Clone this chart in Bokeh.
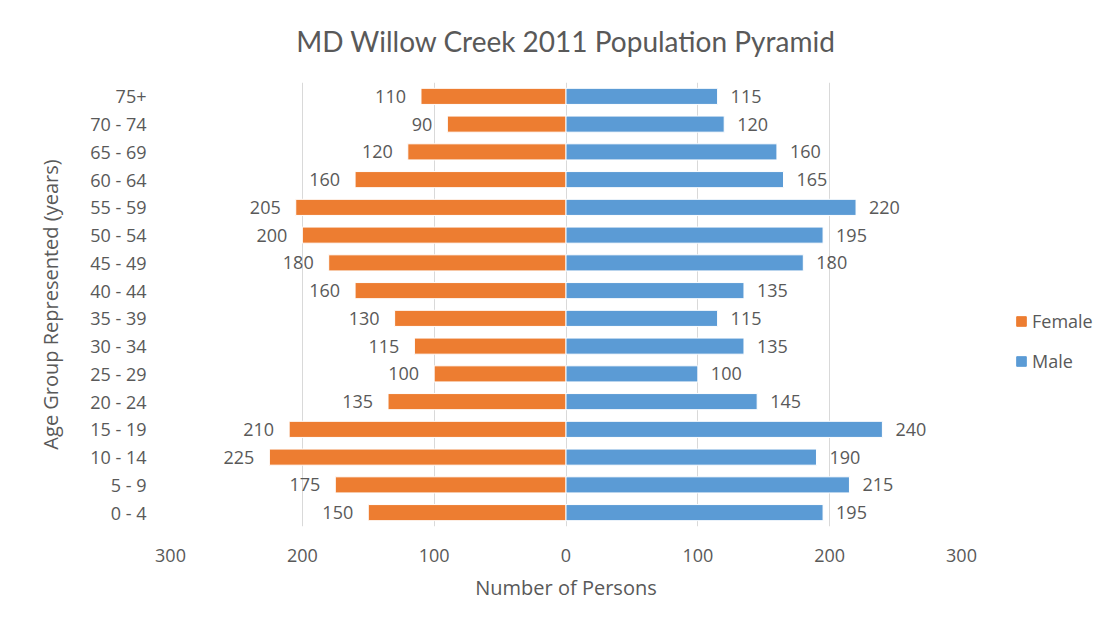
from bokeh.plotting import figure
from bokeh.layouts import row
from bokeh.models import ColumnDataSource, FixedTicker, Legend, LegendItem, FactorRange, Range1d
from bokeh.embed import file_html
from bokeh.resources import INLINE
from bokeh.core.properties import value

# data (top to bottom as in picture)
ages = ["75+", "70 - 74", "65 - 69", "60 - 64", "55 - 59", "50 - 54", "45 - 49", "40 - 44",
        "35 - 39", "30 - 34", "25 - 29", "20 - 24", "15 - 19", "10 - 14", "5 - 9", "0 - 4"]
female = [110, 90, 120, 160, 205, 200, 180, 160, 130, 115, 100, 135, 210, 225, 175, 150]
male = [115, 120, 160, 165, 220, 195, 180, 135, 115, 135, 100, 145, 240, 190, 215, 195]
x_ticks = [-300, -200, -100, 0, 100, 200, 300]
series = ["Female", "Male"]
colors = ["#ED7D31", "#5B9BD5"]

cats = ages[::-1]
src = ColumnDataSource(dict(
    age=ages,
    fneg=[-v for v in female],
    male=male,
    flab=[str(v) for v in female],
    mlab=[str(v) for v in male],
))

FONT = "Open Sans"
GRAY = "#595959"

p = figure(frame_width=791, frame_height=444, output_backend="svg", toolbar_location=None,
           y_range=FactorRange(factors=cats, range_padding=0),
           x_range=Range1d(-300, 300),
           min_border_left=170, min_border_right=25, min_border_top=81, min_border_bottom=88)
p.title.text = "MD Willow Creek 2011 Population Pyramid"
p.title.align = "center"
p.title.vertical_align = "top"
p.title.text_font = "Lato"
p.title.text_font_style = "normal"
p.title.text_font_size = "28px"
p.title.text_color = GRAY
p.title.offset = -4
p.title.standoff = 46
p.outline_line_color = None

p.hbar(y="age", left="fneg", right=0, height=0.58, source=src,
       fill_color=colors[0], line_color="white", line_width=1)
p.hbar(y="age", left=0, right="male", height=0.58, source=src,
       fill_color=colors[1], line_color="white", line_width=1)

p.text(x="fneg", y="age", text="flab", source=src, x_offset=-15,
       text_align="right", text_baseline="middle", text_font=value(FONT),
       text_font_size="18px", text_color=GRAY)
p.text(x="male", y="age", text="mlab", source=src, x_offset=13,
       text_align="left", text_baseline="middle", text_font=value(FONT),
       text_font_size="18px", text_color=GRAY)

p.xaxis.ticker = FixedTicker(ticks=x_ticks)
p.xaxis.major_label_overrides = {t: str(abs(t)) for t in x_ticks}
p.xaxis.axis_label = "Number of Persons"
p.yaxis.axis_label = "Age Group Represented (years)"
for ax in (p.xaxis, p.yaxis):
    ax.axis_line_color = None
    ax.major_tick_line_color = None
    ax.minor_tick_line_color = None
    ax.major_label_text_font = FONT
    ax.major_label_text_font_size = "18px"
    ax.major_label_text_color = GRAY
    ax.axis_label_text_font = FONT
    ax.axis_label_text_font_size = "20px"
    ax.axis_label_text_font_style = "normal"
    ax.axis_label_text_color = GRAY
p.xaxis.major_label_standoff = 16
p.xaxis.axis_label_standoff = 9
p.yaxis.major_label_standoff = 18
p.yaxis.axis_label_standoff = 23

p.xgrid.grid_line_color = "#d9d9d9"
p.ygrid.grid_line_color = None

# legend panel to the right
lg = figure(width=108, height=613, output_backend="svg", toolbar_location=None,
            x_range=Range1d(0, 1), y_range=Range1d(0, 1),
            x_axis_location=None, y_axis_location=None,
            min_border_left=0, min_border_right=0, min_border_top=0, min_border_bottom=0)
lg.outline_line_color = None
lg.grid.grid_line_color = None
items = []
for name, col in zip(series, colors):
    r = lg.hbar(y=[5], left=[5], right=[6], height=0.5, fill_color=col, line_color=col)
    items.append(LegendItem(label=name, renderers=[r]))
legend = Legend(items=items, location=(29, 152), orientation="vertical",
                label_text_font=FONT, label_text_font_size="18px", label_text_color=GRAY,
                glyph_width=12, glyph_height=12, spacing=16, label_standoff=5,
                padding=0, margin=0,
                border_line_color=None, background_fill_alpha=0)
lg.add_layout(legend, "center")

layout = row(p, lg)
open("out.html", "w").write(file_html(layout, INLINE))
